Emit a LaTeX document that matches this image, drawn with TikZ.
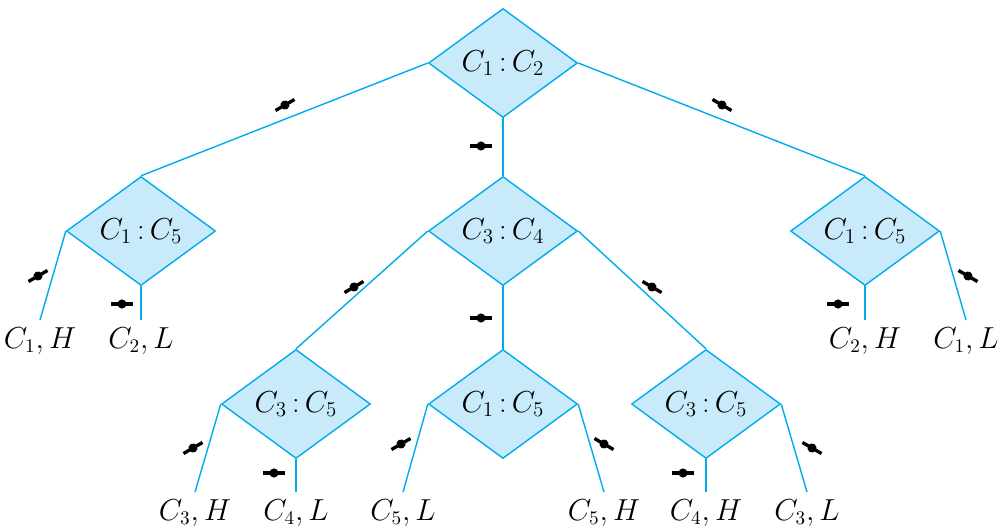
\documentclass[tikz,border=0pt]{standalone}
\usepackage{xcolor}
\usepackage{amsmath, amssymb}
\usepackage{tikz}
\usetikzlibrary{positioning, shapes.geometric}
\definecolor{treeblue}{RGB}{0,172,236}
\definecolor{testfill}{RGB}{200,234,250}
\tikzset{
    test_style/.style={
        diamond,              % weighing at each inner node
        draw=treeblue,
        fill=testfill,
        line width=0.8pt,
        inner sep=0pt,
        minimum width=2.98cm,
        minimum height=2.18cm,
        font=\fontsize{16.5}{19}\selectfont
    },
    leaf_style/.style={
        anchor=north,
        inner xsep=0pt,
        inner ysep=4pt,
        font=\fontsize{16}{19}\selectfont
    },
    branch_style/.style={
        draw=treeblue,
        line width=0.8pt
    },
    balance/.pic={
        \draw[line width=1.9pt] (-11,0) -- (11,0);
        \fill (0,0) circle (2.6pt);
    }
}
\begin{document}
\begin{tikzpicture}[x=0.02cm, y=-0.02cm]
    \useasboundingbox (0,0) rectangle (1007,527);
    % 1. weighings
    \node[test_style] (r)  at (503,63)  {$C_1\,{:}\,C_2$};
    \node[test_style] (a)  at (141,231) {$C_1\,{:}\,C_5$};
    \node[test_style] (b)  at (503,231) {$C_3\,{:}\,C_4$};
    \node[test_style] (c)  at (865,231) {$C_1\,{:}\,C_5$};
    \node[test_style] (ba) at (296,404) {$C_3\,{:}\,C_5$};
    \node[test_style] (bb) at (503,404) {$C_1\,{:}\,C_5$};
    \node[test_style] (bc) at (706,404) {$C_3\,{:}\,C_5$};

    % 2. outcomes
    \node[leaf_style] (a1)  at (40,320)  {$C_1, H$};
    \node[leaf_style] (a2)  at (141,320) {$C_2, L$};
    \node[leaf_style] (c1)  at (865,320) {$C_2, H$};
    \node[leaf_style] (c2)  at (966,320) {$C_1, L$};
    \node[leaf_style] (ba1) at (195,492) {$C_3, H$};
    \node[leaf_style] (ba2) at (296,492) {$C_4, L$};
    \node[leaf_style] (bb1) at (403,492) {$C_5, L$};
    \node[leaf_style] (bb2) at (604,492) {$C_5, H$};
    \node[leaf_style] (bc1) at (706,492) {$C_4, H$};
    \node[leaf_style] (bc2) at (807,492) {$C_3, L$};

    % 3. branches
    \draw[branch_style] (r.west) -- (a.north);
    \draw[branch_style] (r.south) -- (b.north);
    \draw[branch_style] (r.east) -- (c.north);
    \draw[branch_style] (a.west) -- (a1.north);
    \draw[branch_style] (a.south) -- (a2.north);
    \draw[branch_style] (b.west) -- (ba.north);
    \draw[branch_style] (b.south) -- (bb.north);
    \draw[branch_style] (b.east) -- (bc.north);
    \draw[branch_style] (c.south) -- (c1.north);
    \draw[branch_style] (c.east) -- (c2.north);
    \draw[branch_style] (ba.west) -- (ba1.north);
    \draw[branch_style] (ba.south) -- (ba2.north);
    \draw[branch_style] (bb.west) -- (bb1.north);
    \draw[branch_style] (bb.east) -- (bb2.north);
    \draw[branch_style] (bc.south) -- (bc1.north);
    \draw[branch_style] (bc.east) -- (bc2.north);

    % 4. balance marks
    \pic[rotate=30]  at (285,105) {balance};
    \pic             at (481,146) {balance};
    \pic[rotate=-30] at (722,105) {balance};
    \pic[rotate=30]  at (38,276)  {balance};
    \pic             at (122,304) {balance};
    \pic[rotate=30]  at (354,287) {balance};
    \pic             at (481,318) {balance};
    \pic[rotate=-30] at (652,287) {balance};
    \pic             at (838,304) {balance};
    \pic[rotate=-30] at (968,276) {balance};
    \pic[rotate=30]  at (193,448) {balance};
    \pic             at (274,473) {balance};
    \pic[rotate=30]  at (401,444) {balance};
    \pic[rotate=-30] at (604,444) {balance};
    \pic             at (683,473) {balance};
    \pic[rotate=-30] at (812,448) {balance};
\end{tikzpicture}
\end{document}
